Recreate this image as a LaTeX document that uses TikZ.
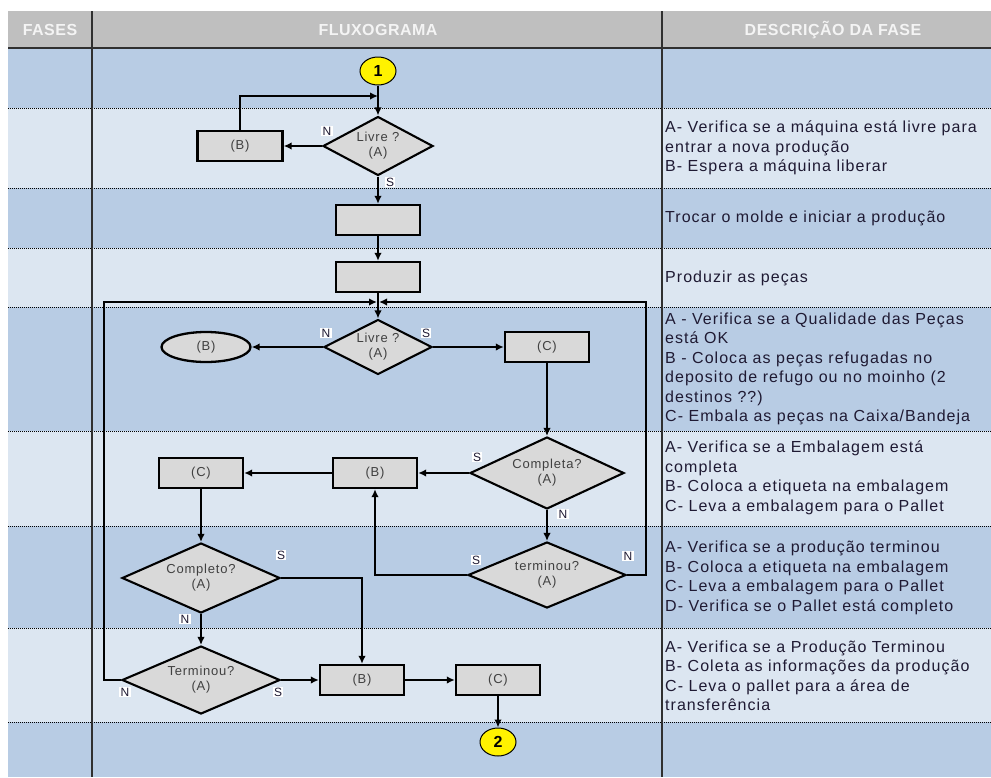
\documentclass[tikz,border=0pt]{standalone}
\usepackage{fontspec}
\setmainfont{Liberation Sans}
\newfontfamily\descfont[LetterSpace=6.5]{Liberation Sans}
\newfontfamily\flowfont[LetterSpace=6]{Liberation Sans}
\newfontfamily\headfont[LetterSpace=3]{Liberation Sans}
\usetikzlibrary{shapes.geometric,arrows.meta}
\definecolor{hdrgray}{HTML}{BFBFBF}
\definecolor{rowdark}{HTML}{B8CCE4}
\definecolor{rowlight}{HTML}{DCE6F1}
\definecolor{shapegray}{HTML}{D9D9D9}
\definecolor{flowtext}{HTML}{404040}
\definecolor{desctext}{HTML}{1F1A33}
\definecolor{linegray}{HTML}{303030}
\definecolor{hdrtext}{HTML}{F4F4F4}
\begin{document}
\begin{tikzpicture}[x=1pt,y=-1pt,
  box/.style={draw=black, line width=2.3pt, fill=shapegray, inner sep=0pt, minimum width=84pt, minimum height=30pt, text=flowtext, font=\flowfont\fontsize{13}{15}\selectfont},
  dec/.style={diamond, shape aspect=2, draw=black, line width=2.1pt, fill=shapegray, inner sep=0pt, align=center, text=flowtext, font=\flowfont\fontsize{13}{15}\selectfont},
  term/.style={ellipse, draw=black, line width=2.3pt, fill=shapegray, inner sep=0pt, minimum width=89pt, minimum height=30pt, text=flowtext, font=\flowfont\fontsize{13}{15}\selectfont},
  conn/.style={ellipse, draw=black, line width=1pt, fill=yellow, inner sep=0pt, minimum width=36pt, minimum height=28pt, font=\bfseries\fontsize{16}{18}\selectfont},
  arr/.style={line width=2.1pt, -{Latex[length=8pt,width=7.5pt]}},
  yn/.style={fill=white, inner sep=1.2pt, text=desctext, font=\fontsize{12}{13}\selectfont},
  desc/.style={anchor=west, align=left, text=desctext, font=\descfont\fontsize{16}{19.5}\selectfont, inner sep=0pt},
  hdr/.style={text=hdrtext, font=\headfont\bfseries\fontsize{16}{18}\selectfont},
  rowsep/.style={line width=0.9pt, dash pattern=on 1pt off 1pt}
]
\useasboundingbox (0,0) rectangle (991,777);
\fill[white] (0,0) rectangle (991,777);
% header and rows
\fill[hdrgray] (8,11) rectangle (991,48);
\foreach \a/\b/\c in {48/108/rowdark,108/188/rowlight,188/248/rowdark,248/307/rowlight,307/431/rowdark,431/526/rowlight,526/628/rowdark,628/722/rowlight,722/777/rowdark}
  \fill[\c] (8,\a) rectangle (991,\b);
\foreach \y in {108,188,248,307,431,526,628,722}
  \draw[rowsep] (8,\y) -- (991,\y);
\draw[line width=1.6pt, linegray] (8,48) -- (991,48);
\draw[line width=1.3pt, linegray] (92,11) -- (92,777);
\draw[line width=1.3pt, linegray] (662,11) -- (662,777);
\node[hdr] (hfases) at (50,30) {FASES};
\node[hdr] (hfluxo) at (378,30) {FLUXOGRAMA};
\node[hdr] (hdesc) at (833,30) {DESCRIÇÃO DA FASE};
% descriptions
\node[desc] (t2) at (665,148) {A- Verifica se a máquina está livre para\\entrar a nova produção\\B- Espera a máquina liberar};
\node[desc] (t3) at (665,218) {Trocar o molde e iniciar a produção};
\node[desc] (t4) at (665,278) {Produzir as peças};
\node[desc] (t5) at (665,369) {A - Verifica se a Qualidade das Peças\\está OK\\B - Coloca as peças refugadas no\\deposito de refugo ou no moinho (2\\destinos ??)\\C- Embala as peças na Caixa/Bandeja};
\node[desc] (t6) at (665,478) {A- Verifica se a Embalagem está\\completa\\B- Coloca a etiqueta na embalagem\\C- Leva a embalagem para o Pallet};
\node[desc] (t7) at (665,578) {A- Verifica se a produção terminou\\B- Coloca a etiqueta na embalagem\\C- Leva a embalagem para o Pallet\\D- Verifica se o Pallet está completo};
\node[desc] (t8) at (665,676) {A- Verifica se a Produção Terminou\\B- Coleta as informações da produção\\C- Leva o pallet para a área de\\transferência};
% flowchart nodes
\node[conn] (c1) at (378,71) {1};
\node[dec, minimum width=110pt, minimum height=59pt] (d1) at (378,146) {Livre ?\\(A)};
\node[box, minimum width=85pt] (b1) at (240,146) {(B)};
\node[box] (p1) at (378,220) {};
\node[box] (p2) at (378,277) {};
\node[dec, minimum width=108pt, minimum height=55pt] (d2) at (378,347) {Livre ?\\(A)};
\node[term] (e1) at (206,347) {(B)};
\node[box] (c2) at (547,347) {(C)};
\node[dec, minimum width=154pt, minimum height=72pt] (d3) at (547,473) {Completa?\\(A)};
\node[box] (b3) at (375,473) {(B)};
\node[box] (c3) at (201,473) {(C)};
\node[dec, minimum width=158pt, minimum height=66pt] (d4) at (547,575) {terminou?\\(A)};
\node[dec, minimum width=158pt, minimum height=70pt] (d5) at (201,578) {Completo?\\(A)};
\node[dec, minimum width=158pt, minimum height=68pt] (d6) at (201,680) {Terminou?\\(A)};
\node[box] (b4) at (362,680) {(B)};
\node[box] (c4) at (498,680) {(C)};
\node[conn] (c5) at (498,742) {2};
% coordinates
\coordinate (j1) at (378,96);
\coordinate (jL) at (377,302);
\coordinate (jR) at (379,302);
\coordinate (lT) at (104,302);
\coordinate (lB) at (104,680);
\coordinate (rT) at (646,302);
\coordinate (rB) at (646,575);
% connectors
\draw[arr] (c1.south) -- (d1.north);
\draw[arr] (b1.north) |- (j1);
\draw[arr] (d1.west) -- (b1.east);
\draw[arr] (d1.south) -- (p1.north);
\draw[arr] (p1.south) -- (p2.north);
\draw[arr] (p2.south) -- (d2.north);
\draw[arr] (d6.west) -- (lB) -- (lT) -- (jL);
\draw[arr] (d4.east) -- (rB) -- (rT) -- (jR);
\draw[arr] (d2.west) -- (e1.east);
\draw[arr] (d2.east) -- (c2.west);
\draw[arr] (c2.south) -- (d3.north);
\draw[arr] (d3.west) -- (b3.east);
\draw[arr] (b3.west) -- (c3.east);
\draw[arr] (d3.south) -- (d4.north);
\draw[arr] (d4.west) -| (b3.south);
\draw[arr] (c3.south) -- (d5.north);
\draw[arr] (d5.east) -| (b4.north);
\draw[arr] (d5.south) -- (d6.north);
\draw[arr] (d6.east) -- (b4.west);
\draw[arr] (b4.east) -- (c4.west);
\draw[arr] (c4.south) -- (c5.north);
% S/N labels
\node[yn] (n1) at (327,131) {N};
\node[yn] (s1) at (390,182) {S};
\node[yn] (n2) at (326,333) {N};
\node[yn] (s2) at (426,333) {S};
\node[yn] (s3) at (477,457) {S};
\node[yn] (n3) at (563,514) {N};
\node[yn] (s4) at (476,560) {S};
\node[yn] (n4) at (628,556) {N};
\node[yn] (s5) at (281,555) {S};
\node[yn] (n5) at (185,619) {N};
\node[yn] (n6) at (125,692) {N};
\node[yn] (s6) at (278,692) {S};
\end{tikzpicture}
\end{document}
